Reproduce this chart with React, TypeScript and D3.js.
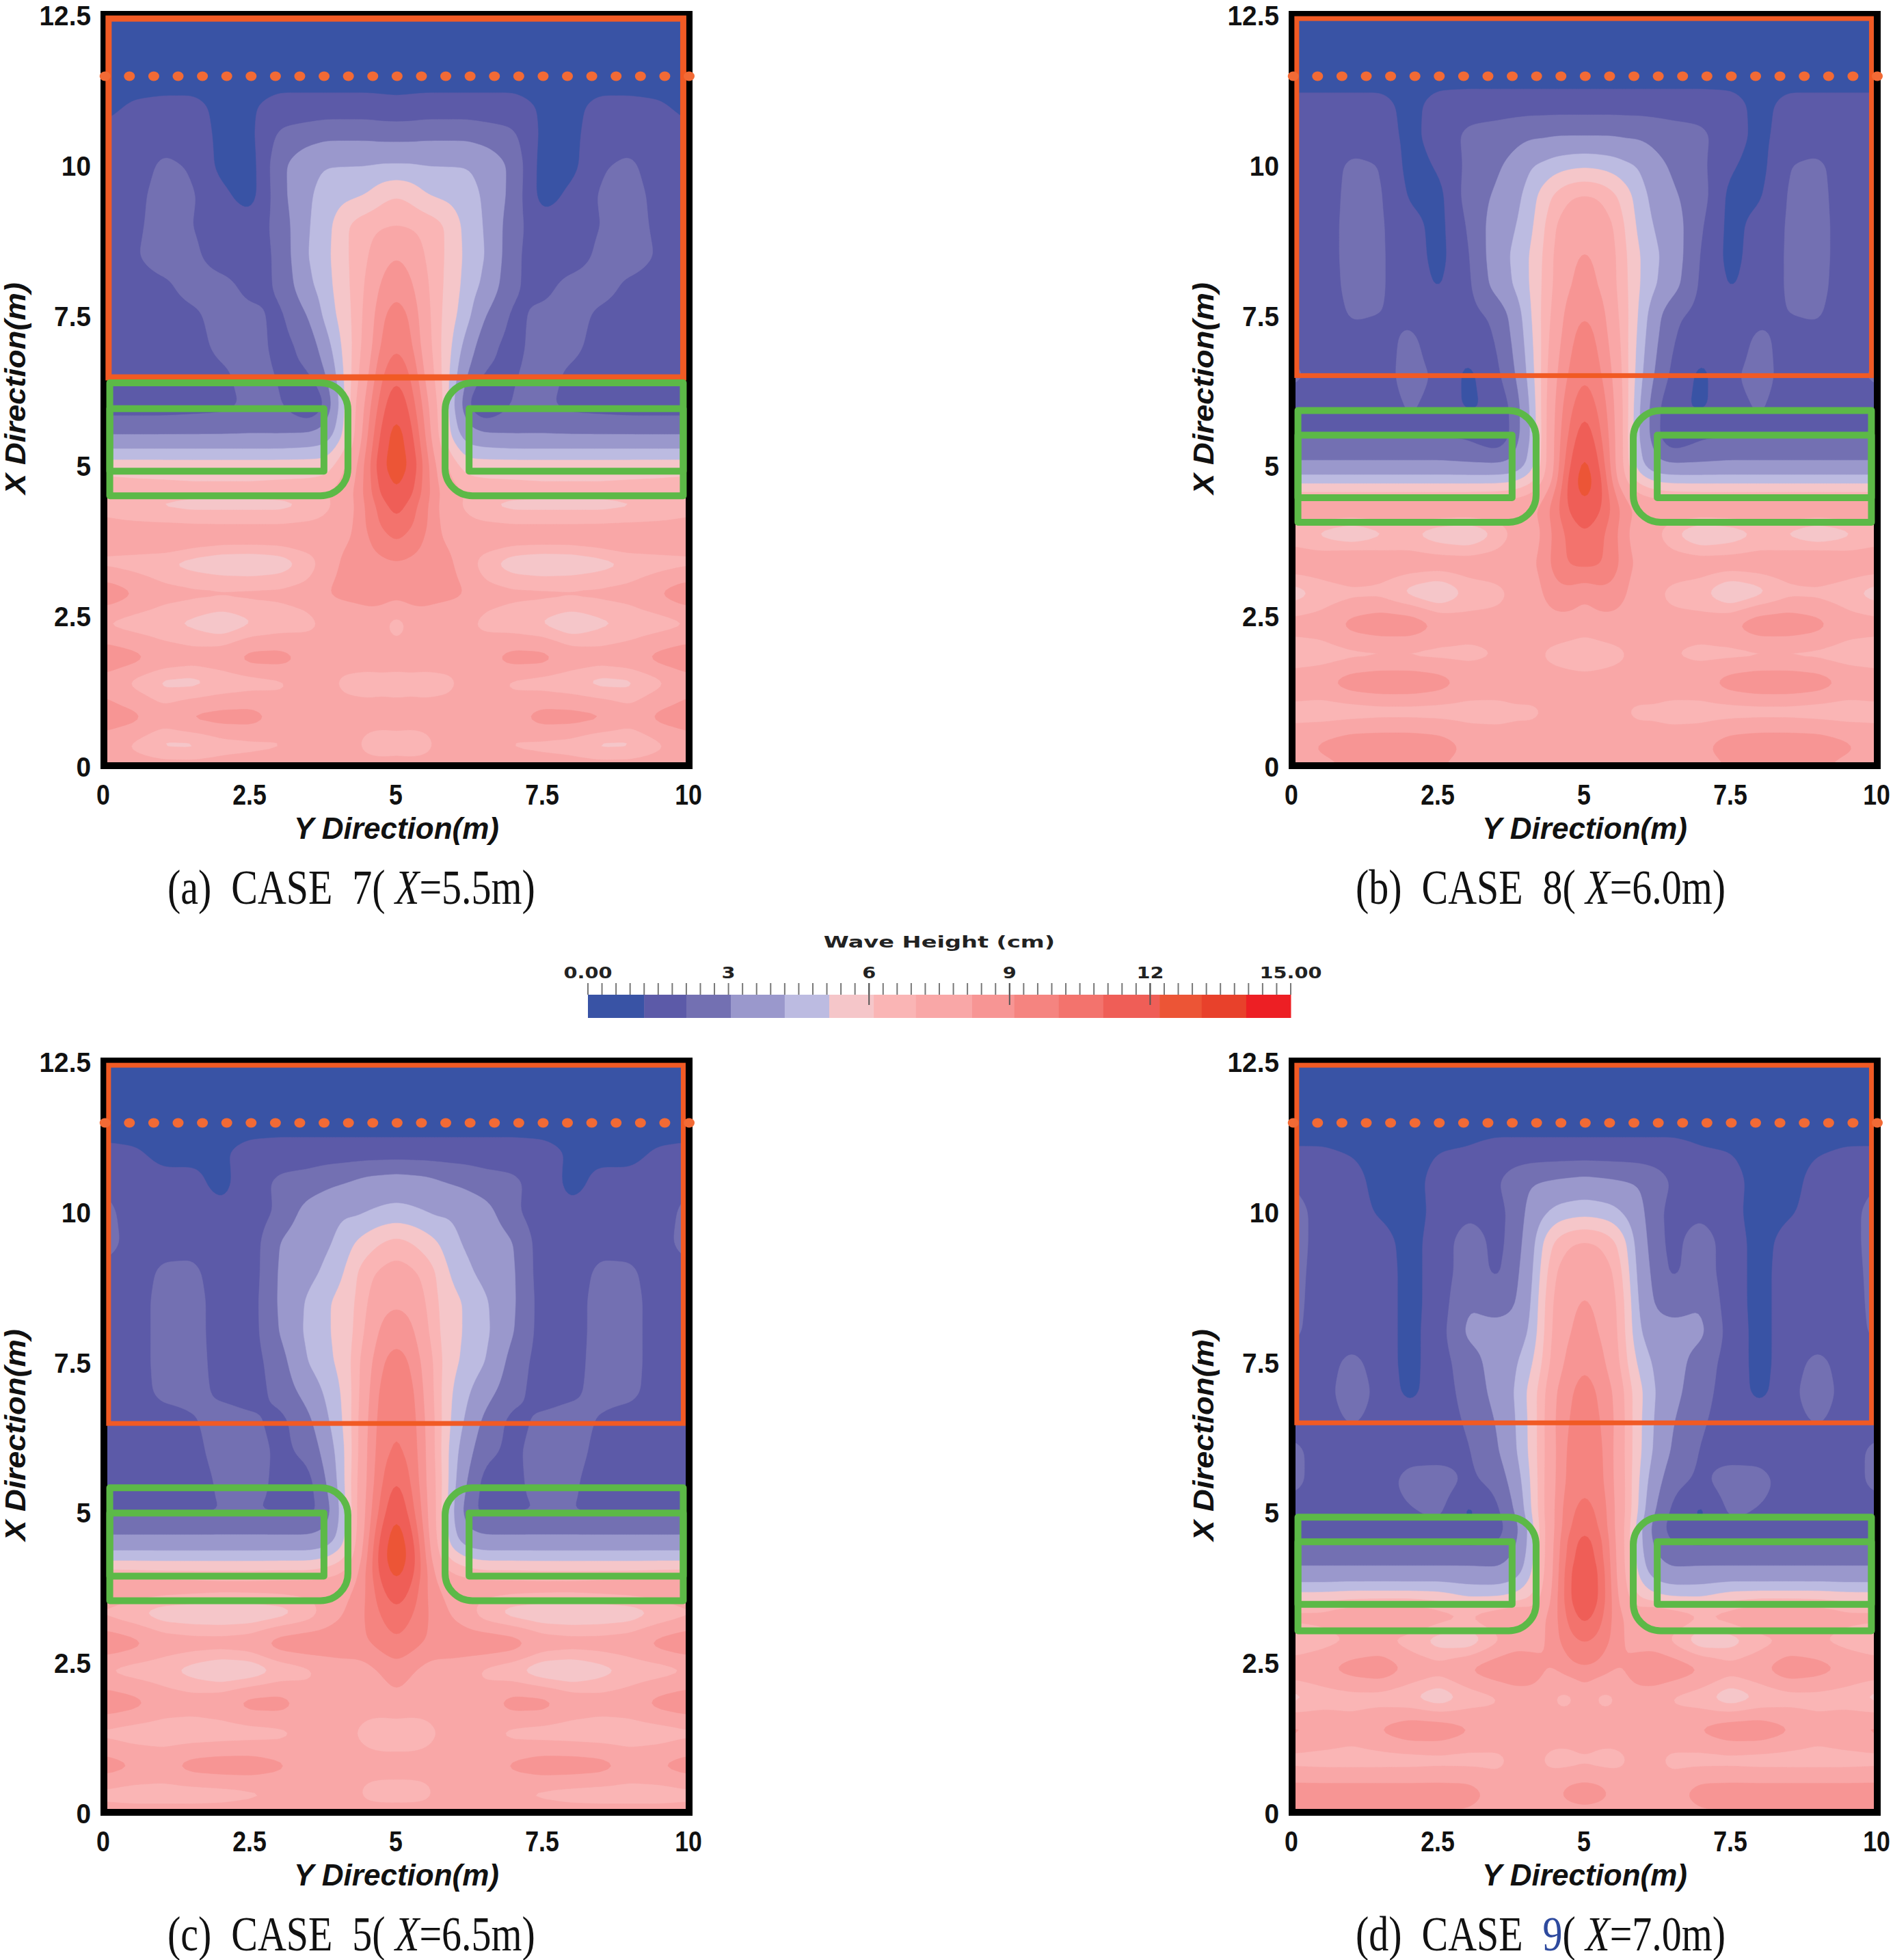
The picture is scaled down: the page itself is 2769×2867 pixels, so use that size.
import React, { useMemo } from "react";
import * as d3 from "d3";

// ---------- legend ----------
const levels = [0, 1.2, 2.1, 3.05, 4.2, 5.15, 6.1, 7, 8.2, 9.1, 10.05, 11, 12.2, 13.1, 14.05, 15];
const bandColors = ["#3953a5", "#5c5aa8", "#7370b2", "#9a98cc", "#bcbbe1", "#f5c6c9", "#fab5b5", "#f9a7a7", "#f79594", "#f58480", "#f3736d", "#ef5e57", "#ec5536", "#e8412b", "#ed1f24"];
const legendLabels = [["0.00", 0], ["3", 3], ["6", 6], ["9", 9], ["12", 12], ["15.00", 15]] as [string, number][];
const legendMajor = [6, 9, 12];

// ---------- axes ----------
const xTickValues = [0, 2.5, 5, 7.5, 10];
const yTickValues = [0, 2.5, 5, 7.5, 10, 12.5];

// half-width sample positions (Y, m) — field is mirrored about Y=5
const sampleY = [0, 0.5, 1, 1.5, 2, 2.5, 3, 3.5, 3.8, 4.1, 4.3, 4.5, 4.75, 5];

// ---------- Case 7 (X=5.5 m) ----------
const rowsA = [12.5, 12, 11.5, 11, 10.5, 10, 9.5, 9, 8.5, 8, 7.5, 7, 6.5, 6, 5.5, 5, 4.5, 4.35, 4, 3.75, 3.37, 2.85, 2.35, 1.77, 1.37, 0.78, 0.32, 0];
const gridA = [
  [.8,.8,.8,.8,.8,.8,.8,.8,.8,.8,.8,.8,.8,.8],
  [.8,.8,.8,.8,.8,.8,.8,.8,.8,.8,.8,.8,.8,.8],
  [.8,.8,.8,.8,.8,.8,.8,.8,.8,.8,.8,.8,.8,.8],
  [1.0,1.3,1.4,1.4,1.0,1.1,1.5,1.5,1.5,1.5,1.5,1.5,1.45,1.4],
  [1.4,1.6,1.7,1.6,1.0,1.0,2.3,2.6,2.8,2.8,2.8,2.8,2.7,2.7],
  [1.1,1.6,2.3,2.0,.9,.8,2.8,3.9,4.2,4.2,4.2,4.2,4.3,4.3],
  [1.1,1.8,2.5,2.2,1.4,.8,2.7,4.1,4.6,4.9,5.0,5.2,5.8,6.1],
  [1.1,1.9,2.5,2.1,1.6,1.6,2.4,4.2,4.8,5.9,6.4,6.7,6.9,7.0],
  [1.7,2.0,2.6,2.3,1.6,1.6,2.3,4.3,4.9,5.9,6.4,6.9,7.8,8.2],
  [1.6,1.7,1.9,2.5,2.4,1.8,2.2,4.0,4.8,5.8,6.4,7.2,8.4,8.9],
  [1.6,1.6,1.7,1.9,2.5,2.3,1.9,3.1,4.6,5.6,6.4,7.4,9.0,9.5],
  [1.6,1.6,1.6,1.7,2.4,2.5,1.8,2.4,3.8,5.4,6.4,7.6,9.3,10.0],
  [1.5,1.5,1.5,1.6,1.9,2.5,2.0,2.0,3.0,5.2,6.6,8.0,10.0,10.9],
  [1.6,1.6,1.6,1.7,1.8,2.3,2.2,1.0,2.2,5.0,7.0,8.6,10.6,12.0],
  [3.0,3.0,3.0,3.0,3.0,3.0,3.0,3.2,3.6,5.2,7.2,9.0,11.3,13.0],
  [5.6,5.6,5.6,5.6,5.6,5.6,5.6,5.6,5.6,6.8,8.0,9.5,12,13],
  [6.9,6.7,6.6,6.5,6.5,6.5,6.6,6.7,7.0,7.6,8.4,9.5,11.2,12.2],
  [6.5,6.0,5.8,5.6,5.6,5.6,5.6,6.0,6.8,7.3,8.3,9.3,10.6,11.6],
  [7.3,7.2,7.1,7.1,7.1,7.1,7.1,7.2,7.3,7.6,8.4,9.2,10.2,10.8],
  [7.9,8.1,8.4,7.8,7.6,7.6,7.6,7.9,7.8,8.0,8.4,9.0,9.6,10.2],
  [6.6,6.4,6.0,5.6,5.2,5.1,5.4,6.4,7.6,8.4,8.7,8.8,8.9,9.0],
  [9.2,8.3,7.5,7.3,7.3,7.3,7.3,7.5,8.2,8.6,8.8,8.9,8.8,8.6],
  [6.8,6.4,6.1,5.8,5.2,5.9,6.3,6.7,7.2,6.9,6.9,7.3,7.3,6.4],
  [9.2,8.7,7.9,7.6,7.9,8.8,8.8,7.9,7.6,7.6,7.6,7.6,7.6,7.6],
  [7.6,6.6,5.7,5.6,6.1,6.4,6.7,7.4,7.3,6.7,6.6,6.5,6.6,6.5],
  [9.0,8.6,7.7,8.6,8.8,8.8,7.9,7.7,7.7,7.6,7.6,7.6,7.6,7.6],
  [7.4,6.7,5.7,5.6,6.4,6.6,6.8,7.4,7.6,7.4,7.2,6.5,6.2,6.4],
  [7.7,7.6,7.5,7.5,7.5,7.6,7.7,7.7,7.7,7.6,7.6,7.5,7.5,7.5],
];

// ---------- Case 8 (X=6.0 m) ----------
const rowsB = [12.5, 12, 11.5, 11, 10.5, 10, 9.5, 9, 8.5, 8, 7.5, 7, 6.5, 6, 5.5, 5, 4.75, 4.5, 4.25, 3.86, 3.35, 2.87, 2.33, 1.83, 1.36, 0.89, 0.3, 0];
const gridB = [
  [.8,.8,.8,.8,.8,.8,.8,.8,.8,.8,.8,.8,.8,.8],
  [.8,.8,.8,.8,.8,.8,.8,.8,.8,.8,.8,.8,.8,.8],
  [.8,.8,.8,.8,.8,.8,.8,.8,.8,.8,.8,.8,.8,.8],
  [1.5,1.5,1.5,1.5,.9,1.6,1.7,1.7,1.7,1.7,1.7,1.7,1.7,1.7],
  [1.3,1.5,1.6,1.6,.95,1.6,2.3,2.5,2.7,2.9,2.9,3.0,3.0,3.0],
  [1.3,1.6,2.3,2.1,.85,1.3,2.3,2.9,3.4,4.2,4.4,4.7,4.9,5.0],
  [1.3,1.6,2.4,2.2,1.05,.9,2.5,3.2,3.8,4.8,5.6,6.3,6.9,7.1],
  [1.4,1.7,2.4,2.2,1.5,.9,2.2,3.6,4.1,5.0,6.0,7.0,7.7,7.9],
  [1.4,1.7,2.4,2.2,1.6,.9,2.0,3.7,4.4,5.3,6.2,7.2,8.0,8.3],
  [1.4,1.6,2.4,2.2,1.6,1.1,1.9,3.5,4.3,5.3,6.3,7.2,8.2,8.6],
  [1.5,1.6,2.2,2.1,1.9,1.6,1.8,2.3,3.5,5.2,6.4,7.4,8.8,9.1],
  [1.6,1.6,1.7,1.7,2.4,1.5,1.5,2.1,3.2,5.0,6.4,7.8,9.0,9.6],
  [2.4,1.6,1.6,1.7,2.5,1.9,.95,1.9,2.9,4.8,6.5,8.1,9.3,10],
  [1.5,1.5,1.6,1.7,2.2,1.8,1.0,1.5,2.4,4.5,6.6,8.3,9.8,10.8],
  [2.0,2.0,2.0,2.0,2.0,2.0,1.9,1.1,2.5,4.3,6.6,8.4,10.3,11.8],
  [3.2,3.2,3.2,3.2,3.2,3.2,3.1,3.1,3.3,4.7,6.6,8.4,11,12.8],
  [4.7,4.7,4.7,4.7,4.7,4.7,4.7,4.7,4.9,5.8,7.0,8.6,11.5,13],
  [6.4,6.4,6.4,6.4,6.4,6.4,6.4,6.5,6.7,7.2,8.0,9.3,11.5,12.6],
  [7.9,8.0,8.0,8.0,8.0,8.0,8.0,7.9,7.9,8.0,8.6,9.7,11.2,11.8],
  [6.4,5.7,5.0,5.8,6.1,5.3,4.9,6.2,7.3,7.6,8.4,9.4,10.4,11.0],
  [7.8,7.9,8.5,7.9,7.7,7.7,7.7,7.7,7.8,8.0,8.6,9.5,10.2,10.3],
  [5.5,6.3,6.6,6.6,5.6,4.9,6.3,6.7,7.2,7.6,8.3,8.8,8.8,8.4],
  [7.5,7.6,8.7,9.2,9.2,8.1,7.5,7.4,7.4,7.6,7.7,7.8,7.8,7.6],
  [6.2,6.4,6.6,6.6,6.6,6.6,6.7,7.0,7.5,7.3,6.9,6.6,6.3,6.0],
  [7.8,8.0,9.0,9.4,9.4,8.9,7.8,7.6,7.6,7.6,7.6,7.6,7.6,7.6],
  [6.6,6.3,6.3,6.4,6.4,6.4,6.5,6.6,6.8,6.8,7.0,7.3,7.6,7.6],
  [7.7,8.5,9.2,9.3,9.3,9.0,7.9,7.6,7.5,7.5,7.5,7.5,7.5,7.5],
  [7.6,7.8,8.4,8.5,8.5,8.3,7.6,7.5,7.5,7.5,7.5,7.5,7.5,7.5],
];

// ---------- Case 5 (X=6.5 m) ----------
const rowsC = [12.5, 12, 11.5, 11, 10.5, 10, 9.5, 9, 8.5, 8, 7.5, 7, 6.5, 6, 5.5, 5, 4.75, 4.5, 4.25, 4, 3.75, 3.3, 2.8, 2.35, 1.8, 1.3, 0.75, 0.3, 0];
const gridC = [
  [.8,.8,.8,.8,.8,.8,.8,.8,.8,.8,.8,.8,.8,.8],
  [.8,.8,.8,.8,.8,.8,.8,.8,.8,.8,.8,.8,.8,.8],
  [.8,.8,.8,.8,.8,.8,.8,.8,.8,.8,.8,.8,.8,.8],
  [1.4,1.3,1.0,1.0,1.1,1.5,1.6,1.6,1.6,1.6,1.6,1.6,1.6,1.6],
  [1.9,1.5,1.4,1.4,.95,1.7,2.3,2.5,2.8,3.0,3.2,3.4,3.5,3.6],
  [2.4,1.6,1.5,1.5,1.4,1.5,2.3,3.5,3.8,4.1,4.0,4.2,4.4,4.5],
  [2.5,1.7,1.7,1.8,1.6,1.6,3.1,3.8,4.0,4.6,5.2,5.6,6.1,6.4],
  [1.8,1.6,2.3,2.3,1.6,1.6,3.2,3.9,4.4,5.1,6.0,6.7,7.2,7.5],
  [1.6,1.6,2.5,2.5,1.6,1.7,3.2,4.4,5.0,5.6,6.1,7.0,7.9,8.1],
  [1.6,1.6,2.5,2.5,1.6,1.7,3.1,4.5,5.0,5.6,6.2,7.3,8.5,8.7],
  [1.6,1.6,2.5,2.5,1.7,1.7,2.6,4.3,4.9,5.5,6.5,7.8,9.0,9.6],
  [1.6,1.6,2.4,2.4,1.9,1.7,2.4,3.5,4.4,5.3,6.5,8.0,9.4,10.0],
  [1.6,1.6,1.6,2.0,2.5,2.3,1.8,2.8,4.0,5.2,6.6,8.2,9.6,10],
  [1.5,1.5,1.5,1.8,2.5,2.5,1.9,2.3,3.5,5.0,6.6,8.3,9.7,10.3],
  [1.5,1.5,1.5,1.6,2.3,2.4,1.9,1.8,3.0,5.0,6.8,8.3,10.0,11.2],
  [1.9,1.9,1.9,1.9,2.1,2.1,2.0,1.8,2.5,4.8,6.8,8.5,10.5,12.2],
  [2.6,2.6,2.6,2.6,2.6,2.6,2.6,2.6,3.0,4.8,6.8,8.6,11,12.8],
  [3.4,3.4,3.4,3.4,3.4,3.4,3.4,3.4,3.7,4.9,7.0,8.8,11.5,13.2],
  [4.7,4.7,4.7,4.7,4.7,4.7,4.7,4.7,5.0,5.9,7.3,9.0,11.8,13.2],
  [6.2,6.2,6.1,6.1,6.1,6.1,6.2,6.2,6.5,7.0,7.8,9.3,11.5,12.8],
  [8.4,7.9,7.8,7.7,7.6,7.6,7.6,7.6,7.6,7.8,8.2,9.2,11,12],
  [6.7,6.1,5.4,5.2,5.1,5.2,5.5,6.3,7.5,8.2,8.7,9.2,10.2,10.8],
  [9.3,8.7,7.8,7.6,7.6,7.8,9.0,9.3,9.0,9.0,9.0,9.0,9.5,9.9],
  [6.8,6.4,6.2,5.6,5.0,5.2,6.1,6.7,7.4,7.6,7.6,7.9,8.3,8.7],
  [9.2,8.7,7.8,7.6,7.9,8.8,8.8,7.7,7.5,7.5,7.6,7.6,7.7,7.9],
  [6.6,6.3,6.2,6.2,6.3,6.4,6.6,7.3,7.5,7.3,7.0,6.5,6.2,6.2],
  [8.9,8.3,8.0,8.8,9.0,9.0,8.5,7.7,7.6,7.6,7.6,7.6,7.6,7.6],
  [6.6,6.4,6.4,6.4,6.5,6.7,7.0,7.4,7.5,7.4,7.2,6.6,6.4,6.4],
  [7.4,7.4,7.4,7.4,7.4,7.5,7.5,7.5,7.5,7.5,7.5,7.5,7.5,7.5],
];

// ---------- Case 9 (X=7.0 m) ----------
const rowsD = [12.5, 12, 11.5, 11, 10.5, 10, 9.5, 9, 8.5, 8, 7.5, 7, 6.5, 6, 5.5, 5, 4.75, 4.5, 4.25, 4, 3.75, 3.55, 3.25, 2.85, 2.37, 1.89, 1.35, 0.85, 0.29, 0];
const gridD = [
  [.8,.8,.8,.8,.8,.8,.8,.8,.8,.8,.8,.8,.8,.8],
  [.8,.8,.8,.8,.8,.8,.8,.8,.8,.8,.8,.8,.8,.8],
  [.8,.8,.8,.8,.8,.8,.8,.8,.8,.8,.8,.8,.8,.8],
  [1.3,1.3,1.15,.9,.9,1.2,1.3,1.6,1.6,1.6,1.6,1.6,1.6,1.6],
  [2.0,1.6,1.5,.9,.9,1.5,1.7,2.0,2.6,3.0,3.1,3.2,3.3,3.4],
  [2.5,1.7,1.5,1.1,.8,1.5,1.9,1.8,2.4,3.5,4.0,4.5,4.7,4.8],
  [2.5,1.7,1.5,1.5,.9,1.6,2.6,1.8,2.5,3.8,5.3,6.3,6.9,7.1],
  [2.4,1.7,1.5,1.6,.9,1.6,2.6,1.9,2.7,4.0,5.7,7.0,7.7,8.0],
  [2.4,1.6,1.5,1.6,.9,1.6,3.0,2.6,2.9,4.2,6.0,7.3,8.0,8.3],
  [2.3,1.6,1.5,1.6,.9,1.7,3.3,3.4,3.5,4.4,6.1,7.4,8.2,8.6],
  [1.7,1.6,2.4,1.6,.9,1.7,2.6,3.5,4.0,5.0,6.3,7.6,8.6,9.0],
  [1.6,1.6,2.8,1.7,.95,1.7,2.4,3.4,4.2,5.6,6.8,8.2,9.0,9.5],
  [1.6,1.6,2.2,1.7,1.7,1.7,2.2,3.1,4.1,5.5,6.9,8.3,9.2,9.6],
  [2.4,1.6,1.6,1.6,1.7,1.7,2.0,2.9,4.0,5.5,6.9,8.2,9.4,9.8],
  [2.4,1.6,1.6,1.6,2.5,2.6,1.9,2.4,3.5,5.3,7.0,8.2,9.5,9.9],
  [1.6,1.6,1.6,1.6,2.0,2.3,.9,1.9,3.0,5.2,7.0,8.3,9.9,10.4],
  [1.9,1.9,1.9,1.9,1.9,1.9,1.3,1.8,2.5,4.8,6.9,8.3,10,10.9],
  [2.0,2.0,2.0,2.0,2.0,2.0,1.9,2.0,2.7,4.8,6.9,8.4,10.5,11.5],
  [2.6,2.6,2.6,2.6,2.6,2.6,2.6,2.6,3.2,4.8,6.9,8.5,10.6,11.8],
  [3.3,3.3,3.3,3.3,3.3,3.3,3.3,3.2,3.6,5,7,8.5,11,12.0],
  [4.5,4.5,4.6,4.6,4.6,4.6,4.3,4.3,4.6,5.6,7.2,8.6,11,12.2],
  [5.8,5.8,6.0,6.0,6.0,5.8,5.2,5.2,5.5,6.2,7.4,8.7,11,12.2],
  [7.4,7.4,8.0,8.5,8.5,7.6,7.2,8.0,8.6,7.8,8.0,8.8,10.5,11.5],
  [6.0,6.5,7.0,7.1,6.4,5.5,5.2,6.7,7.5,7.6,8.1,8.8,9.8,10.2],
  [7.8,8.1,8.8,9.2,8.0,7.5,8.4,9.2,9.4,9.0,8.2,8.2,8.8,9.0],
  [5.6,6.3,6.5,6.4,6.0,5.2,6.3,6.8,7.4,7.6,7.5,6.8,6.6,7.6],
  [8.6,8.2,7.6,8.4,9.2,9.2,8.4,7.8,7.6,7.6,7.6,7.6,7.8,8.4],
  [6.5,6.4,6.4,6.4,6.4,6.5,6.5,6.7,7.2,7.3,6.9,6.6,6.5,6.7],
  [9.0,9.0,9.0,9.0,9.0,9.0,8.9,7.6,7.6,7.6,7.6,8.0,8.8,9.0],
  [8.0,8.0,8.0,8.0,8.0,8.0,8.0,7.5,7.5,7.5,7.5,7.5,7.6,7.8],
];

// ---------- annotations (metres) ----------
const outerTop = [6.37, 5.91, 5.4, 4.91];
const outerBottom = [4.49, 4.05, 3.52, 3.02];
const innerTop = [5.94, 5.5, 4.98, 4.5];
const innerBottom = [4.9, 4.46, 3.93, 3.46];
const orangeBottom = [6.46, 6.49, 6.47, 6.48];
const orangeTop = 12.43;
const dottedX = 11.47;
const captionLead = ["(a)\u00a0\u00a0CASE\u00a0\u00a0", "(b)\u00a0\u00a0CASE\u00a0\u00a0", "(c)\u00a0\u00a0CASE\u00a0\u00a0", "(d)\u00a0\u00a0CASE\u00a0\u00a0"];
const caseNumber = ["7", "8", "5", "9"];
const caseDistance = ["5.5", "6.0", "6.5", "7.0"];
const allRows = [rowsA, rowsB, rowsC, rowsD];
const allGrids = [gridA, gridB, gridC, gridD];

// ---------- layout ----------
const W = 2769, H = 2867;
const offsets = [[0, 0], [1738, 0], [0, 1531], [1738, 1531]];
const xS = d3.scaleLinear().domain([0, 10]).range([152, 1008]);
const yS = d3.scaleLinear().domain([0, 12.5]).range([1120, 21]);
const NX = 201, NY = 251;
const gxS = d3.scaleLinear().domain([0, NX]).range([xS(0), xS(10)]);
const gyS = d3.scaleLinear().domain([0, NY]).range([yS(12.5), yS(0)]);

function sampleField(rows: number[], grid: number[][]) {
  const values = new Float64Array(NX * NY);
  const ascRows = rows.slice().reverse();
  const ascGrid = grid.slice().reverse();
  const colScale = d3.scaleLinear().domain(sampleY).range(sampleY.map((_, i) => i));
  const rowScale = d3.scaleLinear().domain(ascRows).range(ascRows.map((_, i) => i));
  for (let j = 0; j < NY; j++) {
    const X = 12.5 * (1 - j / (NY - 1));
    const rf = rowScale(X);
    const r0 = Math.min(Math.floor(rf), ascRows.length - 2);
    const rt = rf - r0;
    for (let i = 0; i < NX; i++) {
      const Y0 = 10 * i / (NX - 1);
      const Y = Y0 <= 5 ? Y0 : 10 - Y0;
      const cf = colScale(Y);
      const c0 = Math.min(Math.floor(cf), sampleY.length - 2);
      const ct = cf - c0;
      const a = ascGrid[r0][c0] * (1 - ct) + ascGrid[r0][c0 + 1] * ct;
      const b = ascGrid[r0 + 1][c0] * (1 - ct) + ascGrid[r0 + 1][c0 + 1] * ct;
      values[j * NX + i] = a * (1 - rt) + b * rt;
    }
  }
  d3.blur2({ data: values, width: NX, height: NY }, 1.2, 1.2);
  return values;
}

function wallPath(mirror: boolean, top: number, bottom: number) {
  const m = (v: number) => xS(mirror ? 10 - v : v);
  const xL = m(0.1), xR = m(4.17), yT = yS(top), yB = yS(bottom), r = 40;
  const s = mirror ? 1 : -1;
  const p = d3.path();
  p.moveTo(xL, yT);
  p.lineTo(xR + s * r, yT);
  p.arcTo(xR, yT, xR, yT + r, r);
  p.lineTo(xR, yB - r);
  p.arcTo(xR, yB, xR + s * r, yB, r);
  p.lineTo(xL, yB);
  p.closePath();
  return p.toString();
}

function Label({ x, y, sx = 1, anchor = "middle", size, family, weight = "bold", style = "normal", rotate = 0, fill = "#111", children }: any) {
  return (
    <text
      transform={`translate(${x},${y})${rotate ? ` rotate(${rotate})` : ""} scale(${sx},1)`}
      textAnchor={anchor}
      fontSize={size}
      fontFamily={family}
      fontWeight={weight}
      fontStyle={style}
      fill={fill}
    >
      {children}
    </text>
  );
}

const SANS = "'Liberation Sans', Arial, sans-serif";
const SERIF = "'Liberation Serif', 'Times New Roman', serif";
const LEG = "'DejaVu Sans', sans-serif";

function Panel({ index }: { index: number }) {
  const [dx, dy] = offsets[index];
  const contours = useMemo(() => {
    const v = sampleField(allRows[index], allGrids[index]);
    const gen = d3.contours().size([NX, NY]).thresholds(levels.slice(1, -1));
    return gen(v as any);
  }, [index]);
  const path = d3.geoPath(d3.geoTransform({
    point(x: number, y: number) { (this as any).stream.point(gxS(x), gyS(y)); },
  }));
  const dots = d3.range(25).map((i) => 0.02 + i * (9.98 / 24));
  const clip = `clip-${index}`;
  return (
    <g transform={`translate(${dx},${dy})`}>
      <clipPath id={clip}><rect x={xS(0)} y={yS(12.5)} width={xS(10) - xS(0)} height={yS(0) - yS(12.5)} /></clipPath>
      <g clipPath={`url(#${clip})`}>
        <rect x={xS(0)} y={yS(12.5)} width={xS(10) - xS(0)} height={yS(0) - yS(12.5)} fill={bandColors[0]} />
        {contours.map((c: any, i: number) => (
          <path key={i} d={path(c) || ""} fill={bandColors[i + 1]} stroke={bandColors[i + 1]} strokeWidth={0.6} />
        ))}
      </g>
      {/* frame */}
      <rect x={xS(0)} y={yS(12.5)} width={xS(10) - xS(0)} height={yS(0) - yS(12.5)} fill="none" stroke="#000" strokeWidth={10} />
      {/* orange region */}
      <rect
        x={xS(0.08)} y={yS(orangeTop)}
        width={xS(9.9) - xS(0.08)} height={yS(orangeBottom[index]) - yS(orangeTop)}
        fill="none" stroke="#f15a24" strokeWidth={index === 0 ? 9 : 7}
      />
      {/* dotted line */}
      {dots.map((d, i) => (
        <ellipse key={i} cx={xS(d)} cy={yS(dottedX)} rx={8} ry={7} fill="#f26a35" />
      ))}
      {/* breakwaters */}
      {[false, true].map((mirror) => (
        <g key={String(mirror)} fill="none" stroke="#5cb947" strokeWidth={10} strokeLinejoin="round">
          <path d={wallPath(mirror, outerTop[index], outerBottom[index])} />
          <rect
            x={mirror ? xS(10 - 0.1) - (xS(3.76) - xS(0.1)) : xS(0.1)}
            y={yS(innerTop[index])}
            width={xS(3.76) - xS(0.1)}
            height={yS(innerBottom[index]) - yS(innerTop[index])}
          />
        </g>
      ))}
      {/* tick labels */}
      {xTickValues.map((t) => (
        <Label key={t} x={xS(t) - 1} y={1177} sx={0.85} size={42} family={SANS}>{String(t)}</Label>
      ))}
      {yTickValues.map((t) => (
        <Label key={t} x={133} y={yS(t) + 16} sx={0.97} anchor="end" size={40} family={SANS}>{String(t)}</Label>
      ))}
      <Label x={580} y={1227} sx={1.0} size={44} family={SANS} style="italic">Y Direction(m)</Label>
      <Label x={37} y={568} sx={1.08} size={42} family={SANS} style="italic" rotate={-90}>X Direction(m)</Label>
      {/* caption */}
      <Label x={245} y={1322} sx={0.816} anchor="start" size={71} family={SERIF} weight="normal" fill="#111">
        {captionLead[index]}
        <tspan fill={index === 3 ? "#2e4a9e" : "#111"}>{caseNumber[index]}</tspan>
        {"(\u00a0"}
        <tspan fontStyle="italic">X</tspan>
        {`=${caseDistance[index]}m)`}
      </Label>
    </g>
  );
}

function Legend() {
  const sx = d3.scaleLinear().domain([0, 15]).range([860, 1888]);
  const ticks = d3.range(0, 15.01, 0.3);
  return (
    <g>
      <Label x={1374} y={1386} sx={1.46} size={23} family={LEG} fill="#222">Wave Height (cm)</Label>
      {legendLabels.map(([s, v]) => (
        <Label key={s} x={sx(v)} y={1431} sx={1.25} size={23} family={LEG} fill="#222">{s}</Label>
      ))}
      {bandColors.map((c, i) => (
        <rect key={i} x={sx(levels[i])} y={1455} width={sx(levels[i + 1]) - sx(levels[i]) + 0.5} height={34} fill={c} />
      ))}
      {ticks.map((t, i) => (
        <line key={i} x1={sx(t)} x2={sx(t)} y1={1438} y2={1455} stroke="#777" strokeWidth={2} />
      ))}
      {legendMajor.map((t) => (
        <line key={t} x1={sx(t)} x2={sx(t)} y1={1438} y2={1470} stroke="#555" strokeWidth={2} />
      ))}
    </g>
  );
}

export default function App() {
  return (
    <svg width={W} height={H} viewBox={`0 0 ${W} ${H}`} style={{ position: "absolute", left: 0, top: 0, display: "block", background: "#fff" }}>
      {offsets.map((_, i) => <Panel key={i} index={i} />)}
      <Legend />
    </svg>
  );
}
